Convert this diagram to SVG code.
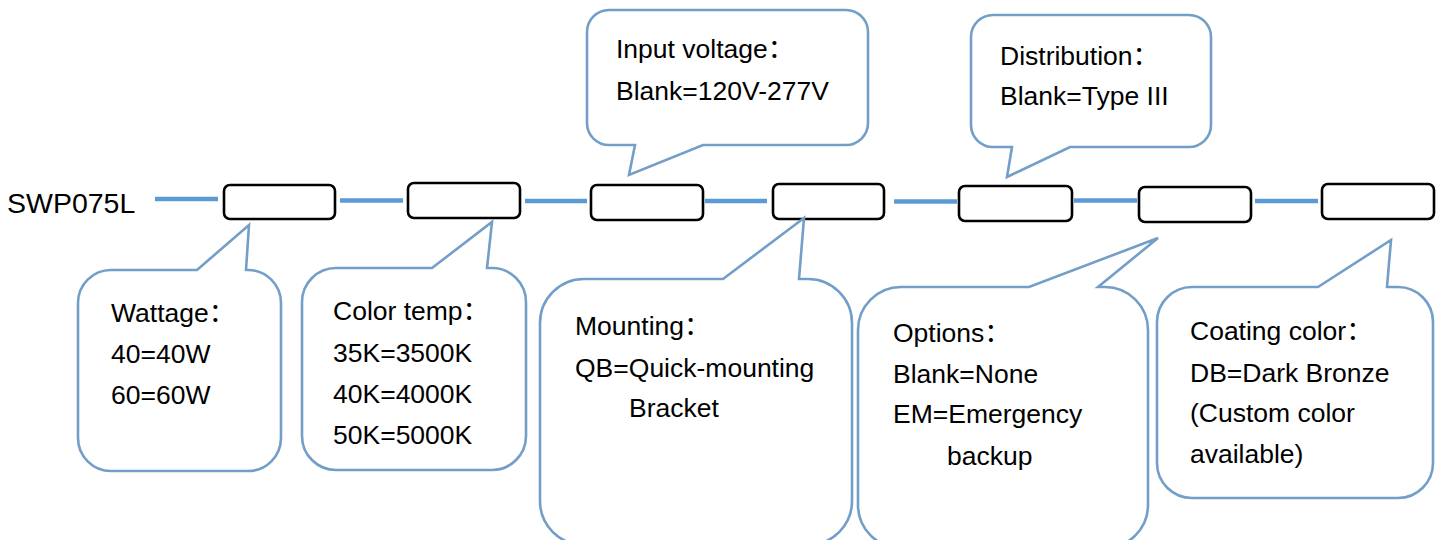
<svg xmlns="http://www.w3.org/2000/svg" width="1443" height="540" viewBox="0 0 1443 540">
<style>
.bg{fill:#ffffff}
.seg{stroke:#5b9bd5;stroke-width:4.5;fill:none}
.box{fill:#ffffff;stroke:#000000;stroke-width:2.6}
.call{fill:#ffffff;stroke:#729ec8;stroke-width:2.6;stroke-linejoin:miter}
.t{font-family:"Liberation Sans","Noto Sans CJK SC",Arial,sans-serif;font-size:26.5px;fill:#000000}
.code{font-family:"Liberation Sans",Arial,sans-serif;font-size:28.5px;fill:#000000}
</style>
<rect class="bg" x="0" y="0" width="1443" height="540"/>
<text class="code" x="7" y="213">SWP075L</text>
<g id="connectors">
<line class="seg" x1="155" y1="199" x2="218" y2="199"/>
<line class="seg" x1="340" y1="200.5" x2="403" y2="200.5"/>
<line class="seg" x1="525" y1="201" x2="587" y2="201"/>
<line class="seg" x1="705" y1="201" x2="767" y2="201"/>
<line class="seg" x1="894" y1="201.5" x2="957" y2="201.5"/>
<line class="seg" x1="1074" y1="200.5" x2="1137" y2="200.5"/>
<line class="seg" x1="1255" y1="201" x2="1318" y2="201"/>
</g>
<g id="box1"><rect class="box" x="224" y="185" width="111" height="34" rx="6"/></g>
<g id="box2"><rect class="box" x="408" y="183" width="112" height="35" rx="6"/></g>
<g id="box3"><rect class="box" x="591" y="185" width="112" height="35" rx="6"/></g>
<g id="box4"><rect class="box" x="773" y="184" width="111" height="35" rx="6"/></g>
<g id="box5"><rect class="box" x="959" y="186" width="113" height="35" rx="6"/></g>
<g id="box6"><rect class="box" x="1139" y="187" width="112" height="35" rx="6"/></g>
<g id="box7"><rect class="box" x="1322" y="184" width="112" height="35" rx="6"/></g>

<g id="callout-wattage">
<path class="call" d="M111,270 L197,270 L249,225 L246,270 L248,270 A33,33 0 0 1 281,303 L281,438 A33,33 0 0 1 248,471 L111,471 A33,33 0 0 1 78,438 L78,303 A33,33 0 0 1 111,270 Z"/>
<text class="t" x="111" y="322">Wattage：</text>
<text class="t" x="111" y="363">40=40W</text>
<text class="t" x="111" y="404">60=60W</text>
</g>
<g id="callout-colortemp">
<path class="call" d="M336,268 L432,268 L492,222 L487,268 L492,268 A34,34 0 0 1 526,302 L526,436 A34,34 0 0 1 492,470 L336,470 A34,34 0 0 1 302,436 L302,302 A34,34 0 0 1 336,268 Z"/>
<text class="t" x="333" y="320">Color temp：</text>
<text class="t" x="333" y="362">35K=3500K</text>
<text class="t" x="333" y="403">40K=4000K</text>
<text class="t" x="333" y="444">50K=5000K</text>
</g>
<g id="callout-input">
<path class="call" d="M609,10 L846,10 A22,22 0 0 1 868,32 L868,123 A22,22 0 0 1 846,145 L703,145 L629,175 L635,145 L609,145 A22,22 0 0 1 587,123 L587,32 A22,22 0 0 1 609,10 Z"/>
<text class="t" x="616" y="58">Input voltage：</text>
<text class="t" x="616" y="100">Blank=120V-277V</text>
</g>
<g id="callout-mounting">
<path class="call" d="M584,279 L723,279 L804,218 L799,279 L808,279 A44,44 0 0 1 852,323 L852,501 A44,44 0 0 1 808,545 L584,545 A44,44 0 0 1 540,501 L540,323 A44,44 0 0 1 584,279 Z"/>
<text class="t" x="575" y="335">Mounting：</text>
<text class="t" x="575" y="377">QB=Quick-mounting</text>
<text class="t" x="629" y="417">Bracket</text>
</g>
<g id="callout-distribution">
<path class="call" d="M993,15 L1189,15 A22,22 0 0 1 1211,37 L1211,125 A22,22 0 0 1 1189,147 L1070,147 L1007,177 L1012,147 L993,147 A22,22 0 0 1 971,125 L971,37 A22,22 0 0 1 993,15 Z"/>
<text class="t" x="1000" y="65">Distribution：</text>
<text class="t" x="1000" y="105">Blank=Type III</text>
</g>
<g id="callout-options">
<path class="call" d="M901,287 L1029,287 L1158,238 L1098,287 L1105,287 A43,43 0 0 1 1148,330 L1148,505 A43,43 0 0 1 1105,548 L901,548 A43,43 0 0 1 858,505 L858,330 A43,43 0 0 1 901,287 Z"/>
<text class="t" x="893" y="342">Options：</text>
<text class="t" x="893" y="383">Blank=None</text>
<text class="t" x="893" y="423">EM=Emergency</text>
<text class="t" x="947" y="465">backup</text>
</g>
<g id="callout-coating">
<path class="call" d="M1192,287 L1318,287 L1391,240 L1387,287 L1398,287 A35,35 0 0 1 1433,322 L1433,463 A35,35 0 0 1 1398,498 L1192,498 A35,35 0 0 1 1157,463 L1157,322 A35,35 0 0 1 1192,287 Z"/>
<text class="t" x="1190" y="340">Coating color：</text>
<text class="t" x="1190" y="382">DB=Dark Bronze</text>
<text class="t" x="1190" y="422">(Custom color</text>
<text class="t" x="1190" y="463">available)</text>
</g>
</svg>
